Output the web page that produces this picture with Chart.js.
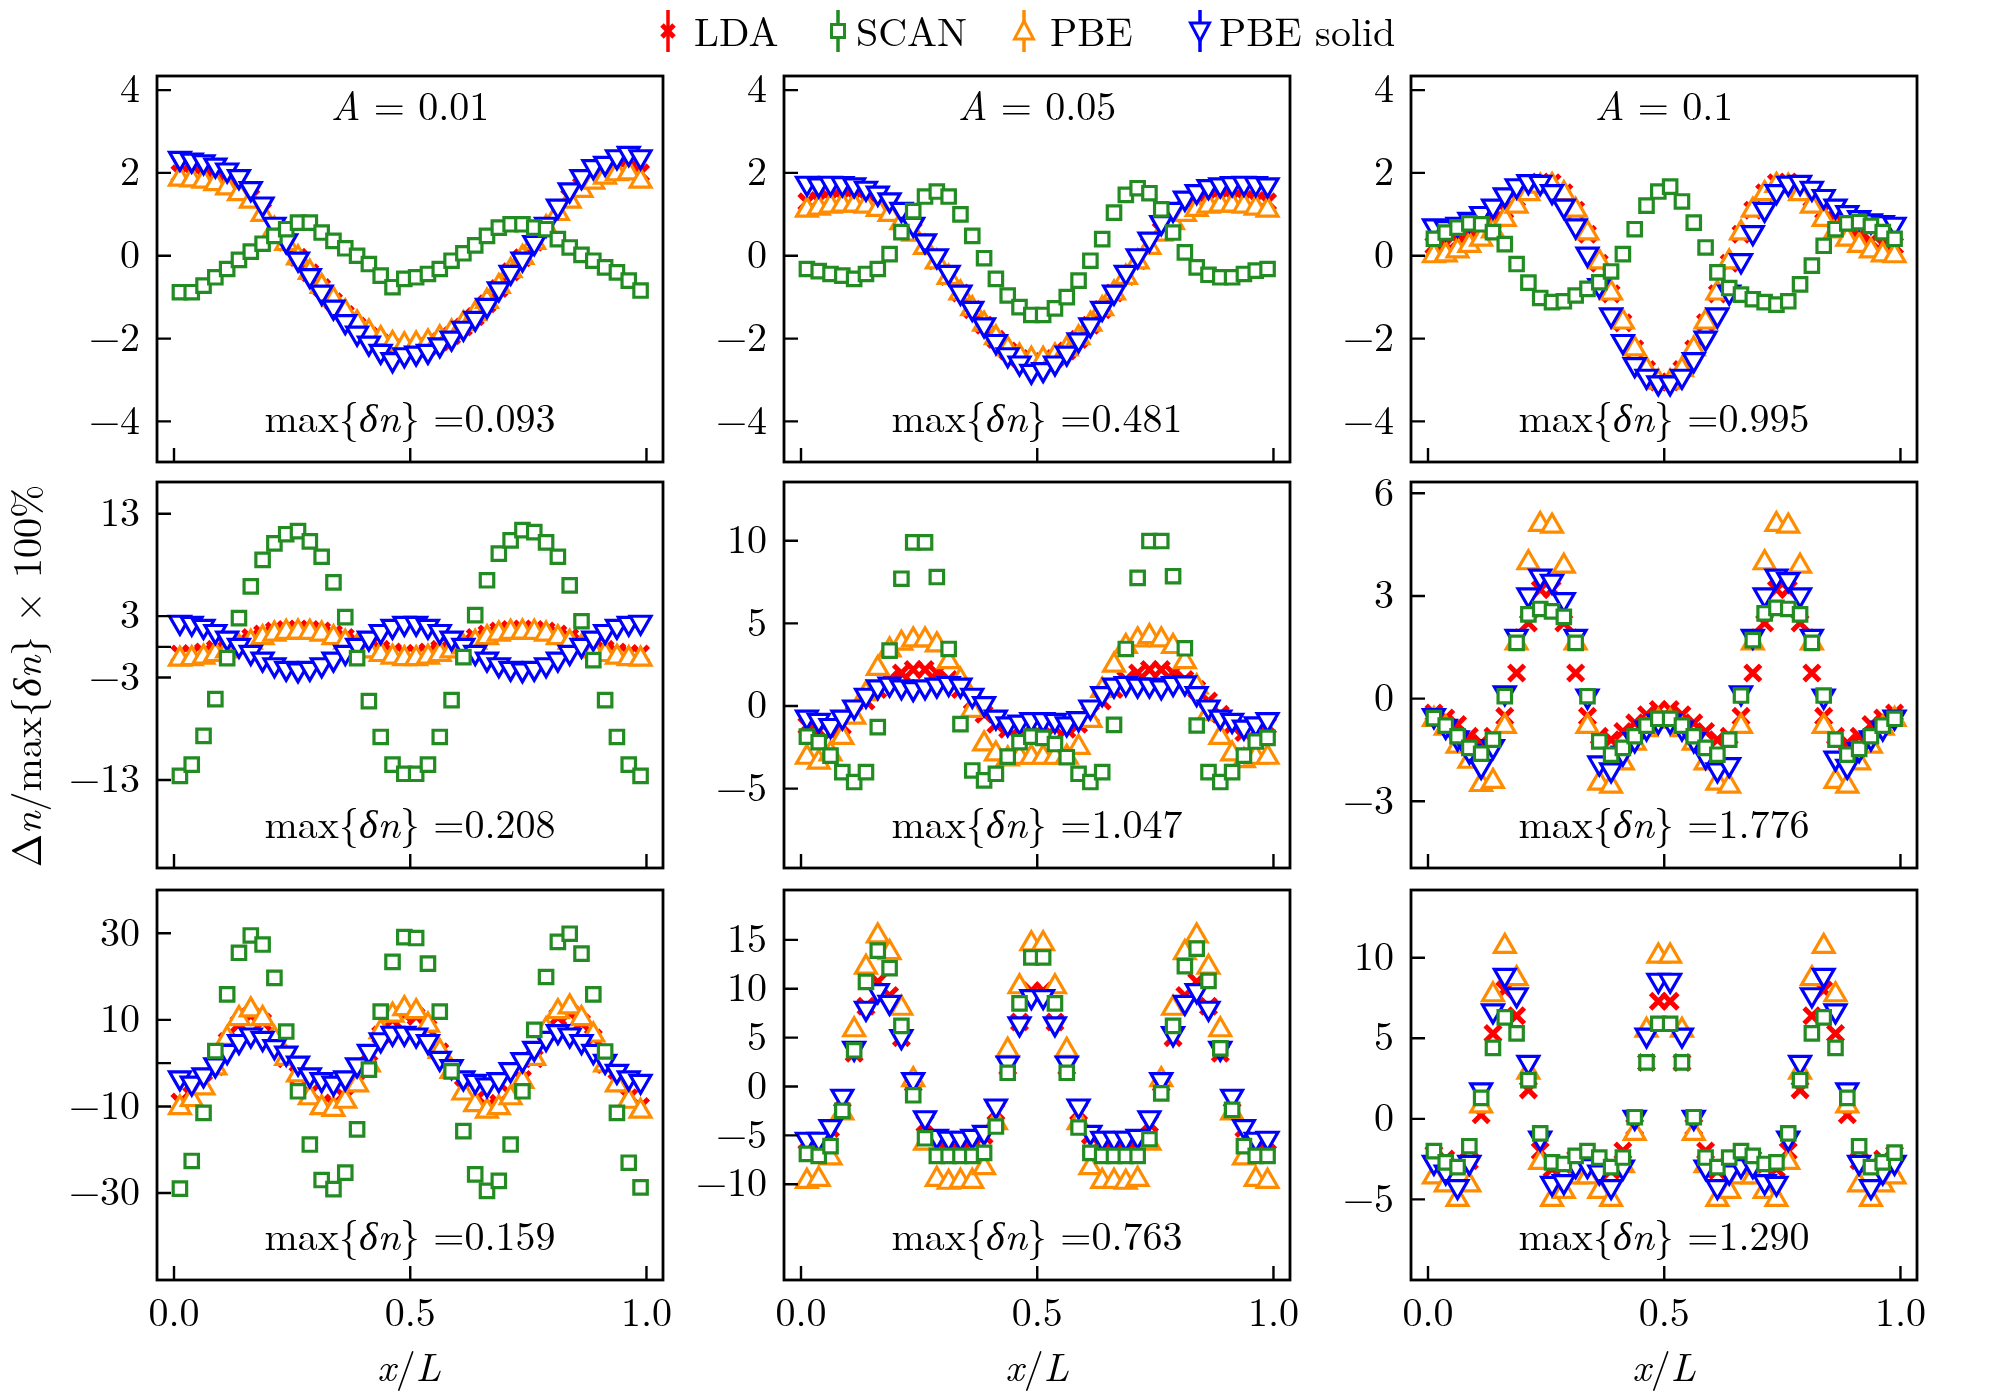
<!DOCTYPE html>
<html><head><meta charset="utf-8">
<script src="https://cdn.jsdelivr.net/npm/chart.js@4.4.1/dist/chart.umd.min.js"></script>
<style>
html,body{margin:0;padding:0;background:#fff;}
body{width:2012px;height:1396px;position:relative;overflow:hidden;color:#000;}
canvas{position:absolute;}
#overlay{position:absolute;left:0;top:0;z-index:5;pointer-events:none;}
#overlay text{font-family:"Latin Modern Roman","Liberation Serif",serif;font-size:40px;fill:#000;}
</style></head><body>
<svg id="overlay" width="2012" height="1396" xmlns="http://www.w3.org/2000/svg">
  <!-- y label -->
  <text transform="translate(41,676) rotate(-90)" text-anchor="middle">&#916;<tspan font-style="italic">n</tspan>/max{<tspan font-style="italic">&#948;n</tspan>} &#215; 100%</text>
  <!-- x labels -->
  <text x="409" y="1381" text-anchor="middle"><tspan font-style="italic">x</tspan>/<tspan font-style="italic">L</tspan></text>
  <text x="1037" y="1381" text-anchor="middle"><tspan font-style="italic">x</tspan>/<tspan font-style="italic">L</tspan></text>
  <text x="1664" y="1381" text-anchor="middle"><tspan font-style="italic">x</tspan>/<tspan font-style="italic">L</tspan></text>
  <!-- legend -->
  <g>
    <line x1="668" y1="10" x2="668" y2="52" stroke="#ff0000" stroke-width="3.5"/>
    <line x1="662" y1="25" x2="674" y2="37" stroke="#ff0000" stroke-width="5"/>
    <line x1="674" y1="25" x2="662" y2="37" stroke="#ff0000" stroke-width="5"/>
    <text x="694" y="46">LDA</text>
    <line x1="838" y1="10" x2="838" y2="52" stroke="#228b22" stroke-width="3.5"/>
    <rect x="831.5" y="24.5" width="13" height="13" fill="#fff" stroke="#228b22" stroke-width="3"/>
    <text x="856" y="46">SCAN</text>
    <line x1="1024" y1="10" x2="1024" y2="52" stroke="#ff8c00" stroke-width="3.5"/>
    <polygon points="1024,21 1014.5,39 1033.5,39" fill="#fff" stroke="#ff8c00" stroke-width="3"/>
    <text x="1050" y="46">PBE</text>
    <line x1="1200" y1="10" x2="1200" y2="52" stroke="#0000ff" stroke-width="3.5"/>
    <polygon points="1200,41 1190.5,23 1209.5,23" fill="#fff" stroke="#0000ff" stroke-width="3"/>
    <text x="1219" y="46">PBE solid</text>
  </g>
</svg>
<script>
// ---------- data ----------
const xPos = [0.0125,0.0375,0.0625,0.0875,0.1125,0.1375,0.1625,0.1875,0.2125,0.2375,0.2625,0.2875,0.3125,0.3375,0.3625,0.3875,0.4125,0.4375,0.4625,0.4875,0.5125,0.5375,0.5625,0.5875,0.6125,0.6375,0.6625,0.6875,0.7125,0.7375,0.7625,0.7875,0.8125,0.8375,0.8625,0.8875,0.9125,0.9375,0.9625,0.9875];
const xTicks = [0, 0.5, 1];
const seriesNames = ['LDA','SCAN','PBE','PBE solid'];
const aValues = ['0.01','0.05','0.1'];
const maxDn = ['0.093','0.481','0.995','0.208','1.047','1.776','0.159','0.763','1.290'];

// row 1 (A = 0.01, 0.05, 0.1)
const lda00 = [1.98,1.96,1.92,1.85,1.74,1.59,1.40,1.07,0.70,0.33,-0.04,-0.41,-0.77,-1.11,-1.42,-1.70,-1.93,-2.10,-2.22,-2.26,-2.24,-2.19,-2.08,-1.93,-1.72,-1.47,-1.16,-0.79,-0.39,-0.05,0.33,0.72,1.08,1.40,1.68,1.89,2.02,2.09,2.10,2.00];
const scan00 = [-0.88,-0.88,-0.72,-0.52,-0.32,-0.10,0.10,0.29,0.48,0.64,0.80,0.80,0.56,0.36,0.18,0.00,-0.20,-0.48,-0.76,-0.56,-0.52,-0.44,-0.32,-0.12,0.06,0.25,0.48,0.68,0.76,0.76,0.68,0.64,0.40,0.20,0.02,-0.12,-0.28,-0.40,-0.60,-0.84];
const pbe00 = [1.85,1.83,1.80,1.74,1.64,1.50,1.32,1.00,0.64,0.30,-0.05,-0.40,-0.74,-1.06,-1.36,-1.62,-1.84,-2.00,-2.12,-2.15,-2.13,-2.08,-1.98,-1.84,-1.64,-1.40,-1.10,-0.74,-0.36,-0.04,0.32,0.68,1.02,1.32,1.58,1.78,1.90,1.98,2.00,1.80];
const pbes00 = [2.35,2.31,2.27,2.19,2.07,1.91,1.62,1.25,0.76,0.36,-0.08,-0.48,-0.88,-1.24,-1.59,-1.87,-2.11,-2.31,-2.51,-2.39,-2.35,-2.31,-2.15,-1.99,-1.75,-1.51,-1.20,-0.80,-0.40,-0.08,0.32,0.76,1.20,1.59,1.91,2.15,2.23,2.39,2.47,2.39];

const lda01 = [1.30,1.33,1.36,1.38,1.38,1.35,1.27,1.12,0.90,0.60,0.25,-0.12,-0.50,-0.90,-1.30,-1.68,-2.02,-2.30,-2.48,-2.56,-2.56,-2.48,-2.30,-2.02,-1.68,-1.30,-0.90,-0.50,-0.12,0.25,0.60,0.90,1.12,1.27,1.35,1.38,1.38,1.36,1.33,1.30];
const scan01 = [-0.32,-0.37,-0.44,-0.48,-0.56,-0.44,-0.32,0.04,0.57,1.08,1.43,1.55,1.43,1.00,0.48,-0.06,-0.56,-0.96,-1.24,-1.43,-1.43,-1.27,-1.00,-0.60,-0.12,0.40,1.04,1.47,1.63,1.51,1.12,0.56,0.08,-0.28,-0.46,-0.52,-0.52,-0.44,-0.36,-0.32];
const pbe01 = [1.10,1.15,1.20,1.22,1.22,1.20,1.12,1.00,0.80,0.52,0.20,-0.15,-0.52,-0.90,-1.28,-1.65,-1.98,-2.25,-2.42,-2.50,-2.50,-2.42,-2.25,-1.98,-1.65,-1.28,-0.90,-0.52,-0.15,0.20,0.52,0.80,1.00,1.12,1.20,1.22,1.22,1.20,1.15,1.10];
const pbes01 = [1.75,1.71,1.75,1.74,1.71,1.63,1.51,1.35,1.12,0.76,0.36,0.00,-0.40,-0.88,-1.27,-1.67,-2.07,-2.39,-2.59,-2.79,-2.75,-2.59,-2.35,-2.03,-1.67,-1.27,-0.88,-0.40,0.00,0.40,0.80,1.12,1.39,1.55,1.67,1.71,1.74,1.75,1.74,1.71];

const lda02 = [0.25,0.28,0.35,0.48,0.65,0.85,1.10,1.38,1.62,1.78,1.76,1.52,1.10,0.52,-0.18,-0.92,-1.62,-2.25,-2.75,-3.05,-3.05,-2.75,-2.25,-1.62,-0.92,-0.18,0.52,1.10,1.52,1.76,1.78,1.62,1.38,1.10,0.85,0.65,0.48,0.35,0.28,0.25];
const scan02 = [0.41,0.56,0.68,0.78,0.76,0.57,0.28,-0.20,-0.65,-1.02,-1.12,-1.10,-0.96,-0.80,-0.64,-0.38,0.04,0.64,1.21,1.55,1.67,1.31,0.80,0.20,-0.40,-0.78,-0.94,-1.05,-1.12,-1.18,-1.10,-0.69,-0.24,0.24,0.64,0.78,0.81,0.72,0.57,0.41];
const pbe02 = [0.00,0.02,0.12,0.25,0.40,0.60,0.88,1.20,1.50,1.68,1.70,1.50,1.10,0.55,-0.15,-0.90,-1.60,-2.25,-2.75,-3.05,-3.05,-2.75,-2.25,-1.60,-0.90,-0.15,0.55,1.10,1.50,1.70,1.68,1.50,1.20,0.88,0.60,0.40,0.25,0.12,0.02,0.00];
const pbes02 = [0.72,0.68,0.76,0.88,1.02,1.20,1.47,1.69,1.79,1.77,1.55,1.20,0.72,0.04,-0.72,-1.43,-2.07,-2.63,-2.91,-3.07,-3.07,-2.91,-2.51,-1.99,-1.43,-0.88,-0.12,0.56,1.12,1.55,1.75,1.77,1.63,1.43,1.20,1.04,0.92,0.84,0.80,0.76];

// row 2
const lda10 = [-0.7,-0.65,-0.5,-0.25,0.1,0.5,0.9,1.25,1.55,1.7,1.75,1.7,1.55,1.25,0.9,0.5,0.1,-0.25,-0.5,-0.65,-0.65,-0.5,-0.25,0.1,0.5,0.9,1.25,1.55,1.7,1.75,1.7,1.55,1.25,0.9,0.5,0.1,-0.25,-0.5,-0.65,-0.7];
const scan10 = [-12.6,-11.5,-8.7,-5.1,-1.1,2.8,5.9,8.5,10.1,11.0,11.3,10.3,8.8,6.3,2.9,-1.1,-5.3,-8.8,-11.5,-12.4,-12.4,-11.5,-8.8,-5.2,-1.0,3.1,6.5,9.1,10.4,11.4,11.2,10.2,8.8,6.0,2.5,-1.3,-5.2,-8.8,-11.5,-12.6];
const pbe10 = [-1.2,-1.15,-1.0,-0.75,-0.4,0.0,0.45,0.9,1.25,1.42,1.45,1.42,1.25,0.9,0.45,0.0,-0.4,-0.75,-1.0,-1.15,-1.15,-1.0,-0.75,-0.4,0.0,0.45,0.9,1.25,1.42,1.45,1.42,1.25,0.9,0.45,0.0,-0.4,-0.75,-1.0,-1.15,-1.2];
const pbes10 = [2.4,2.3,2.0,1.5,0.85,0.15,-0.55,-1.2,-1.75,-2.1,-2.25,-2.1,-1.75,-1.2,-0.55,0.15,0.85,1.5,2.0,2.3,2.3,2.0,1.5,0.85,0.15,-0.55,-1.2,-1.75,-2.1,-2.25,-2.1,-1.75,-1.2,-0.55,0.15,0.85,1.5,2.0,2.3,2.4];

const lda11 = [-1.2,-1.5,-1.6,-1.2,-0.5,0.3,1.0,1.6,2.0,2.2,2.2,2.0,1.6,1.0,0.3,-0.5,-1.1,-1.4,-1.3,-1.2,-1.2,-1.3,-1.4,-1.1,-0.5,0.3,1.0,1.6,2.0,2.2,2.2,2.0,1.6,1.0,0.3,-0.5,-1.2,-1.6,-1.5,-1.2];
const scan11 = [-1.85,-2.19,-3.0,-4.0,-4.6,-4.0,-1.28,3.35,7.7,9.9,9.9,7.8,3.45,-1.1,-3.9,-4.5,-4.1,-3.06,-2.19,-1.85,-1.93,-2.3,-3.1,-4.1,-4.6,-4.0,-1.14,3.45,7.75,9.98,9.98,7.85,3.49,-1.18,-4.0,-4.6,-4.0,-3.0,-2.15,-1.93];
const pbe11 = [-3.1,-3.4,-2.9,-1.9,-0.67,0.75,2.27,3.39,3.8,4.0,4.0,3.7,2.68,1.56,-0.26,-2.29,-2.9,-3.2,-3.1,-3.1,-3.1,-3.1,-3.1,-2.5,-0.87,0.95,2.47,3.6,4.0,4.2,4.0,3.6,2.68,1.16,-0.47,-1.9,-2.9,-3.3,-3.1,-3.1];
const pbes11 = [-0.67,-0.87,-1.18,-0.67,-0.06,0.65,1.16,1.32,1.16,1.05,1.16,1.26,1.36,1.26,0.65,0.14,-0.67,-1.08,-0.97,-0.83,-0.83,-0.87,-1.08,-0.77,-0.06,0.75,1.26,1.36,1.26,1.26,1.16,1.36,1.40,0.75,-0.06,-0.67,-0.87,-1.28,-1.08,-0.83];

const lda12 = [-0.42,-0.57,-0.76,-1.10,-1.30,-1.10,-0.52,0.75,2.21,3.19,3.19,2.21,0.75,-0.52,-1.10,-1.20,-0.96,-0.71,-0.47,-0.32,-0.32,-0.47,-0.71,-0.96,-1.20,-1.10,-0.52,0.75,2.21,3.19,3.19,2.21,0.75,-0.52,-1.10,-1.30,-1.10,-0.76,-0.57,-0.42];
const scan12 = [-0.57,-0.79,-1.10,-1.44,-1.61,-1.20,0.07,1.63,2.46,2.62,2.55,2.39,1.63,0.07,-1.25,-1.64,-1.44,-1.10,-0.79,-0.59,-0.59,-0.79,-1.10,-1.44,-1.64,-1.20,0.09,1.71,2.49,2.65,2.62,2.46,1.63,0.09,-1.20,-1.64,-1.47,-1.10,-0.79,-0.59];
const pbe12 = [-0.61,-0.86,-1.39,-1.83,-2.51,-2.42,-0.81,1.63,3.97,5.09,5.04,3.87,1.63,-0.81,-2.47,-2.56,-1.88,-1.30,-0.91,-0.66,-0.66,-0.91,-1.30,-1.88,-2.47,-2.56,-0.81,1.63,3.97,5.09,5.04,3.87,1.63,-0.81,-2.42,-2.56,-1.88,-1.39,-0.86,-0.61];
const pbes12 = [-0.50,-0.81,-1.15,-1.54,-1.98,-1.40,0.17,1.82,3.03,3.58,3.43,2.89,1.82,0.07,-1.88,-2.08,-1.59,-1.20,-0.86,-0.66,-0.66,-0.86,-1.20,-1.69,-2.08,-1.93,0.17,1.82,3.03,3.58,3.48,3.03,1.82,0.07,-1.74,-1.98,-1.49,-1.15,-0.86,-0.54];

// row 3
const lda20 = [-9.0,-7.5,-4.8,-0.8,5.0,9.0,11.0,9.5,5.5,1.0,-2.8,-7.0,-9.2,-9.5,-8.0,-4.5,-0.3,6.5,10.0,11.3,10.8,8.0,2.6,-1.5,-6.0,-8.6,-10.0,-9.3,-7.2,-3.8,1.0,7.0,10.6,11.6,9.3,5.8,-0.3,-4.5,-8.0,-10.0];
const scan20 = [-29.0,-22.6,-11.5,2.8,15.9,25.5,29.5,27.4,19.7,7.3,-6.5,-18.8,-27.0,-29.1,-25.3,-15.3,-1.5,11.9,23.4,29.1,28.9,23.0,11.9,-1.9,-15.7,-25.7,-29.5,-27.2,-18.8,-6.5,7.7,19.9,28.0,29.9,25.3,15.9,2.7,-11.5,-23.0,-28.7];
const pbe20 = [-10.3,-8.4,-5.7,-1.1,5.7,10.3,12.3,10.3,5.7,1.1,-2.7,-8.0,-10.3,-10.7,-8.8,-5.0,-0.4,7.3,11.1,12.6,11.9,8.8,2.7,-1.9,-6.9,-9.6,-11.1,-10.3,-8.0,-4.2,1.1,7.7,11.9,13.0,10.3,6.5,-0.4,-5.0,-8.8,-11.1];
const pbes20 = [-3.4,-4.6,-2.7,-0.4,2.7,5.0,6.5,5.7,3.8,2.3,0.0,-2.7,-3.8,-4.6,-3.4,-0.4,2.7,5.4,6.9,6.9,6.5,5.0,1.1,-0.8,-3.4,-4.2,-5.0,-3.8,-1.5,0.8,3.4,5.7,7.3,6.5,5.0,2.7,0.4,-1.9,-3.4,-4.2];

const lda21 = [-5.6,-5.6,-4.3,-1.3,3.4,8.2,10.7,9.3,5.0,0.3,-3.8,-5.5,-5.6,-5.6,-5.5,-5.0,-2.6,2.0,6.6,9.8,9.8,6.6,2.0,-2.6,-5.0,-5.5,-5.6,-5.6,-5.5,-3.8,0.3,5.0,9.3,10.7,8.2,3.4,-1.3,-4.3,-5.6,-5.6];
const scan21 = [-6.9,-7.1,-6.1,-2.5,3.7,10.7,13.9,12.1,6.2,-0.9,-5.3,-7.1,-7.1,-7.1,-7.1,-6.8,-4.1,1.4,8.5,13.2,13.2,8.5,1.4,-4.2,-6.8,-7.1,-7.1,-7.1,-7.1,-5.4,-0.7,6.2,12.3,14.1,10.8,3.9,-2.4,-6.1,-7.1,-7.1];
const pbe21 = [-9.7,-9.5,-7.3,-2.7,5.8,12.2,15.4,13.7,8.0,0.7,-5.8,-9.5,-9.8,-9.7,-9.7,-8.3,-3.7,3.7,10.2,14.6,14.6,10.2,3.7,-3.7,-8.3,-9.7,-9.7,-9.8,-9.5,-5.8,0.7,8.0,13.7,15.4,12.2,5.8,-2.7,-7.3,-9.5,-9.7];
const pbes21 = [-5.4,-5.4,-4.1,-1.0,3.9,8.0,9.8,8.6,5.1,0.7,-3.2,-5.1,-5.3,-5.3,-5.1,-4.7,-2.0,2.4,6.4,9.2,9.2,6.4,2.4,-2.0,-4.7,-5.3,-5.3,-5.3,-5.1,-3.2,0.7,5.4,8.6,9.8,8.0,3.9,-1.0,-4.1,-5.4,-5.3];

const lda22 = [-2.2,-2.5,-2.9,-2.6,0.25,5.3,8.0,6.4,1.8,-2.0,-3.1,-2.9,-2.5,-2.5,-2.9,-3.2,-2.0,-0.5,3.5,7.3,7.3,3.5,-0.5,-2.0,-3.2,-2.9,-2.5,-2.5,-2.9,-3.1,-2.0,1.8,6.4,8.0,5.3,0.25,-2.6,-2.9,-2.5,-2.2];
const scan22 = [-2.0,-2.7,-3.0,-1.7,1.3,4.4,6.3,5.3,2.4,-0.9,-2.7,-2.8,-2.3,-2.0,-2.4,-3.0,-2.4,0.1,3.5,5.9,5.9,3.5,0.1,-2.4,-3.0,-2.4,-2.0,-2.3,-2.8,-2.7,-0.9,2.4,5.3,6.3,4.4,1.3,-1.7,-3.0,-2.7,-2.1];
const pbe22 = [-3.6,-4.1,-5.0,-4.1,0.8,7.7,10.7,8.7,2.9,-2.7,-5.0,-4.5,-3.6,-3.6,-4.5,-5.0,-2.9,-0.9,5.5,10.1,10.1,5.5,-0.9,-2.9,-5.0,-4.5,-3.6,-3.6,-4.5,-5.0,-2.7,2.9,8.7,10.7,7.7,0.8,-4.1,-5.0,-4.1,-3.6];
const pbes22 = [-2.7,-3.3,-4.2,-2.7,1.8,6.7,8.9,7.7,3.5,-1.2,-4.0,-3.9,-2.9,-2.9,-3.3,-4.2,-3.0,0.1,5.2,8.6,8.6,5.2,0.1,-3.0,-4.2,-3.3,-2.9,-2.9,-3.9,-4.0,-1.2,3.5,7.7,8.9,6.7,1.8,-2.7,-4.2,-3.3,-2.7];

// y tick labels per panel
const yTicksRow1 = [-4,-2,0,2,4];
const yTicks10 = [-13,-3,0,3,13];
const yTicks11 = [-5,0,5,10];
const yTicks12 = [-3,0,3,6];
const yTicks20 = [-30,-10,0,10,30];
const yTicks21 = [-10,-5,0,5,10,15];
const yTicks22 = [-5,0,5,10];
const yMins = [-4.98,-4.98,-4.98,-21.6,-9.8,-4.95,-50.1,-19.8,-10.0];
const yMaxs = [4.34,4.34,4.34,16.1,13.55,6.33,40.0,20.1,14.2];
const unlabeledZero = [false,false,false,true,false,false,true,false,false];

// ---------- layout ----------
const colLeft = [157, 784, 1411];
const rowTop = [76, 482, 890];
const boxW = 506, boxH = 390;
const padL = 120, padR = 30, padT = 20, padB = 12, axisH = 80;
const FONT = '"Latin Modern Roman", "Liberation Serif", serif';

function fmtY(v){ return v < 0 ? '\u2212' + Math.abs(v) : String(v); }

function drawSegs(ctx, segs, cx, baseY, size){
  const fonts = segs.map(s => (s[1] === 'i' ? 'italic ' : '') + size + 'px ' + FONT);
  const ws = []; let total = 0;
  segs.forEach((s,k) => { ctx.font = fonts[k]; const w = ctx.measureText(s[0]).width; ws.push(w); total += w; });
  let x = cx - total/2;
  ctx.textBaseline = 'alphabetic'; ctx.textAlign = 'left'; ctx.fillStyle = '#000';
  segs.forEach((s,k) => { ctx.font = fonts[k]; ctx.fillText(s[0], x, baseY); x += ws[k]; });
}

const framePlugin = {
  id: 'frame',
  afterDatasetsDraw(chart, args, opts){
    const {ctx, chartArea:a, scales:{x, y}} = chart;
    ctx.save();
    ctx.strokeStyle = '#000'; ctx.lineWidth = 2.4; ctx.lineCap = 'butt';
    ctx.beginPath();
    for (const t of y.ticks){ const py = y.getPixelForValue(t.value); ctx.moveTo(a.left, py); ctx.lineTo(a.left + 14, py); }
    for (const t of x.ticks){ const px = x.getPixelForValue(t.value); ctx.moveTo(px, a.bottom); ctx.lineTo(px, a.bottom - 14); }
    ctx.stroke();
    ctx.lineWidth = 2.8;
    ctx.strokeRect(a.left, a.top, a.right - a.left, a.bottom - a.top);
    const cx = (a.left + a.right)/2;
    if (opts.title) drawSegs(ctx, [['A','i'],[' = ' + opts.title,'n']], cx, a.top + 44, 40);
    if (opts.note) drawSegs(ctx, [['max{','n'],['\u03b4n','i'],['} =' + opts.note,'n']], cx, a.bottom - 30, 40);
    ctx.restore();
  }
};

function toPts(arr){ return xPos.map((x,i) => ({x: x, y: arr[i]})); }

function makePanel(r, c, lda, scan, pbe, pbes, yTicks){
  const k = r*3 + c;
  const bottomRow = r === 2;
  const w = padL + boxW + padR;
  const h = padT + boxH + (bottomRow ? axisH : padB);
  const cv = document.createElement('canvas');
  cv.width = w; cv.height = h;
  cv.style.left = (colLeft[c] - padL) + 'px';
  cv.style.top = (rowTop[r] - padT) + 'px';
  cv.style.width = w + 'px'; cv.style.height = h + 'px';
  document.body.appendChild(cv);
  const open = {pointBackgroundColor:'#ffffff', pointBorderWidth:3.2, showLine:false};
  new Chart(cv, {
    type: 'scatter',
    data: { datasets: [
      Object.assign({label: seriesNames[1], data: toPts(scan), order:0, pointStyle:'rect', pointRadius:9.5, pointBorderColor:'#228b22'}, open),
      Object.assign({label: seriesNames[3], data: toPts(pbes), order:1, pointStyle:'triangle', pointRotation:180, pointRadius:12, pointBorderColor:'#0000ff'}, open),
      Object.assign({label: seriesNames[2], data: toPts(pbe), order:2, pointStyle:'triangle', pointRadius:12, pointBorderColor:'#ff8c00'}, open),
      {label: seriesNames[0], data: toPts(lda), order:3, pointStyle:'crossRot', pointRadius:11, pointBorderWidth:5, pointBorderColor:'#ff0000', pointBackgroundColor:'#ff0000', showLine:false}
    ]},
    options: {
      responsive: false, animation: false, devicePixelRatio: 1, events: [],
      layout: { padding: { left: 0, right: padR, top: padT, bottom: bottomRow ? 0 : padB } },
      plugins: {
        legend: { display: false }, tooltip: { enabled: false },
        frame: { title: r === 0 ? aValues[c] : null, note: maxDn[k] }
      },
      scales: {
        x: {
          type: 'linear', min: -0.036, max: 1.035,
          afterBuildTicks: s => { s.ticks = xTicks.map(v => ({value: v})); },
          afterFit: s => { s.height = bottomRow ? axisH : 0; s.paddingLeft = s.paddingRight = s.paddingTop = s.paddingBottom = 0; },
          grid: { display: false, drawTicks: false },
          border: { display: false },
          ticks: { display: bottomRow, autoSkip: false, maxRotation: 0, padding: 10, color: '#000',
                   font: { family: FONT, size: 40 }, callback: v => Number(v).toFixed(1) }
        },
        y: {
          type: 'linear', min: yMins[k], max: yMaxs[k],
          afterBuildTicks: s => { s.ticks = yTicks.map(v => ({value: v})); },
          afterFit: s => { s.width = padL; s.paddingLeft = s.paddingRight = s.paddingTop = s.paddingBottom = 0; },
          grid: { display: false, drawTicks: false },
          border: { display: false },
          ticks: { autoSkip: false, padding: 17, color: '#000', font: { family: FONT, size: 40 },
                   callback: v => (v === 0 && unlabeledZero[k]) ? '' : fmtY(v) }
        }
      }
    },
    plugins: [framePlugin]
  });
}

function buildAll(){
  makePanel(0,0, lda00, scan00, pbe00, pbes00, yTicksRow1);
  makePanel(0,1, lda01, scan01, pbe01, pbes01, yTicksRow1);
  makePanel(0,2, lda02, scan02, pbe02, pbes02, yTicksRow1);
  makePanel(1,0, lda10, scan10, pbe10, pbes10, yTicks10);
  makePanel(1,1, lda11, scan11, pbe11, pbes11, yTicks11);
  makePanel(1,2, lda12, scan12, pbe12, pbes12, yTicks12);
  makePanel(2,0, lda20, scan20, pbe20, pbes20, yTicks20);
  makePanel(2,1, lda21, scan21, pbe21, pbes21, yTicks21);
  makePanel(2,2, lda22, scan22, pbe22, pbes22, yTicks22);
}

let built = false;
function go(){ if (!built){ built = true; buildAll(); } }
Promise.all([
  document.fonts.load('40px "Latin Modern Roman"'),
  document.fonts.load('italic 40px "Latin Modern Roman"'),
  document.fonts.load('40px "Liberation Serif"'),
  document.fonts.load('italic 40px "Liberation Serif"')
]).then(go, go);
setTimeout(go, 1500);
</script>
</body></html>
